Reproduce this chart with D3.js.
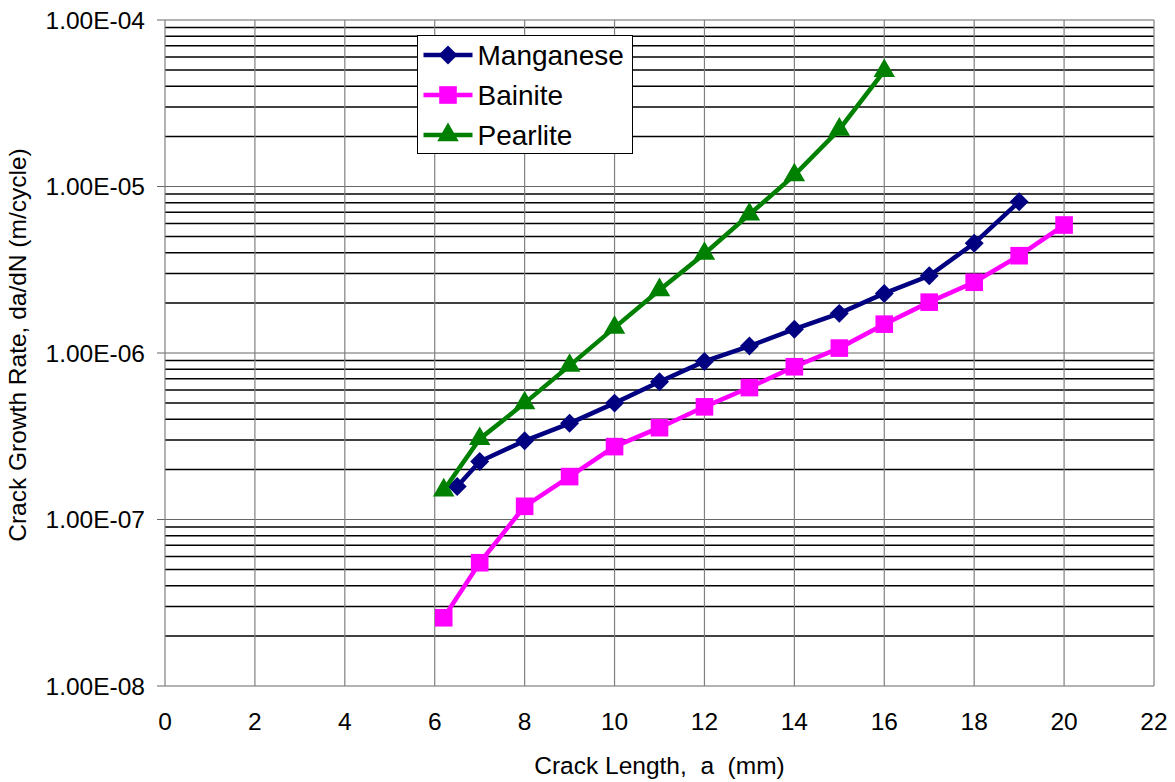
<!DOCTYPE html>
<html>
  <head>
    <title>Crack Growth Rate</title>
    <script src="https://d3js.org/d3.v7.min.js"></script>
    <style>
      body { margin: 0; background: #fff; }
      text { font-family: "Liberation Sans", Arial, sans-serif; fill: #000; }
      .tick-label { font-size: 24.5px; }
      .axis-title { font-size: 24.5px; }
      .legend-label { font-size: 28px; }
    </style>
  </head>
  <body>
    <svg width="1175" height="782"></svg>
    <script>
      // crack length (mm) and da/dN (m/cycle)
      const manganeseX = [6.5, 7, 8, 9, 10, 11, 12, 13, 14, 15, 16, 17, 18, 19];
      const manganeseY = [1.58e-7, 2.23e-7, 2.97e-7, 3.78e-7, 5.0e-7, 6.72e-7, 8.9e-7, 1.1e-6,
                          1.39e-6, 1.73e-6, 2.28e-6, 2.91e-6, 4.56e-6, 8.1e-6];
      const bainiteX = [6.2, 7, 8, 9, 10, 11, 12, 13, 14, 15, 16, 17, 18, 19, 20];
      const bainiteY = [2.57e-8, 5.5e-8, 1.2e-7, 1.81e-7, 2.74e-7, 3.56e-7, 4.75e-7, 6.2e-7,
                        8.27e-7, 1.07e-6, 1.49e-6, 2.02e-6, 2.66e-6, 3.84e-6, 5.87e-6];
      const pearliteX = [6.2, 7, 8, 9, 10, 11, 12, 13, 14, 15, 16];
      const pearliteY = [1.5e-7, 3.05e-7, 5.0e-7, 8.4e-7, 1.42e-6, 2.39e-6, 3.95e-6, 6.8e-6,
                         1.17e-5, 2.2e-5, 4.95e-5];
      const xTicks = [0, 2, 4, 6, 8, 10, 12, 14, 16, 18, 20, 22];
      const yTicks = [1e-8, 1e-7, 1e-6, 1e-5, 1e-4];

      const series = [
        { name: "Manganese", xs: manganeseX, ys: manganeseY, color: "#000080", symbol: d3.symbolSquare, size: 180, rot: 45 },
        { name: "Bainite", xs: bainiteX, ys: bainiteY, color: "#FF00FF", symbol: d3.symbolSquare, size: 310, rot: 0 },
        { name: "Pearlite", xs: pearliteX, ys: pearliteY, color: "#008000", symbol: d3.symbolTriangle, size: 200, rot: 0 }
      ];

      const svg = d3.select("svg");
      const plot = { left: 165, right: 1154, top: 20, bottom: 686 };

      const x = d3.scaleLinear().domain([0, 22]).range([plot.left, plot.right]);
      const y = d3.scaleLog().domain([1e-8, 1e-4]).range([plot.bottom, plot.top]);

      // minor horizontal gridlines (2..9 in each decade)
      const minors = [];
      for (let e = -8; e < -4; e++) {
        for (let m = 2; m <= 9; m++) minors.push(m * Math.pow(10, e));
      }
      svg.append("g").selectAll("line").data(minors).join("line")
          .attr("x1", plot.left).attr("x2", plot.right)
          .attr("y1", d => y(d)).attr("y2", d => y(d))
          .attr("stroke", "#000").attr("stroke-width", 1.5);

      // major horizontal gridlines
      svg.append("g").selectAll("line").data(yTicks).join("line")
          .attr("x1", plot.left - 8).attr("x2", plot.right)
          .attr("y1", d => y(d)).attr("y2", d => y(d))
          .attr("stroke", "#666").attr("stroke-width", 1);

      // vertical gridlines
      svg.append("g").selectAll("line").data(xTicks).join("line")
          .attr("x1", d => x(d)).attr("x2", d => x(d))
          .attr("y1", plot.top).attr("y2", plot.bottom)
          .attr("stroke", "#808080").attr("stroke-width", 1.2);

      // tick labels
      svg.append("g").selectAll("text").data(yTicks).join("text")
          .attr("class", "tick-label")
          .attr("x", 145).attr("y", d => y(d))
          .attr("text-anchor", "end").attr("dy", "0.35em")
          .text(d => d.toExponential(2).toUpperCase().replace(/E([+-])(\d)$/, "E$10$2"));

      svg.append("g").selectAll("text").data(xTicks).join("text")
          .attr("class", "tick-label")
          .attr("x", d => x(d)).attr("y", 730)
          .attr("text-anchor", "middle")
          .text(d => d);

      // axis titles
      svg.append("text").attr("class", "axis-title")
          .attr("x", (plot.left + plot.right) / 2).attr("y", 774)
          .attr("text-anchor", "middle")
          .attr("xml:space", "preserve")
          .text("Crack Length,  a  (mm)");

      svg.append("text").attr("class", "axis-title")
          .attr("transform", "translate(26, 345) rotate(-90)")
          .attr("text-anchor", "middle")
          .text("Crack Growth Rate, da/dN (m/cycle)");

      // series
      const line = d3.line().x(d => x(d[0])).y(d => y(d[1]));
      series.forEach(s => {
        const pts = s.xs.map((v, i) => [v, s.ys[i]]);
        const g = svg.append("g");
        g.append("path").datum(pts)
            .attr("d", line)
            .attr("fill", "none")
            .attr("stroke", s.color)
            .attr("stroke-width", 4.5);
        g.selectAll("path.marker").data(pts).join("path")
            .attr("class", "marker")
            .attr("transform", d => `translate(${x(d[0])},${y(d[1])}) rotate(${s.rot})`)
            .attr("d", d3.symbol(s.symbol, s.size))
            .attr("fill", s.color);
      });

      // legend
      const legend = svg.append("g").attr("transform", "translate(417.5, 35.5)");
      legend.append("rect")
          .attr("width", 215).attr("height", 118)
          .attr("fill", "#fff").attr("stroke", "#000").attr("stroke-width", 1);
      const item = legend.selectAll("g").data(series).join("g")
          .attr("transform", (d, i) => `translate(0, ${19.5 + i * 40})`);
      item.append("line")
          .attr("x1", 6).attr("x2", 55)
          .attr("stroke", d => d.color).attr("stroke-width", 4.5);
      item.append("path")
          .attr("transform", d => `translate(30.5,0) rotate(${d.rot})`)
          .attr("d", d => d3.symbol(d.symbol, d.size)())
          .attr("fill", d => d.color);
      item.append("text")
          .attr("class", "legend-label")
          .attr("x", 60).attr("dy", "0.36em")
          .text(d => d.name);
    </script>
  </body>
</html>
